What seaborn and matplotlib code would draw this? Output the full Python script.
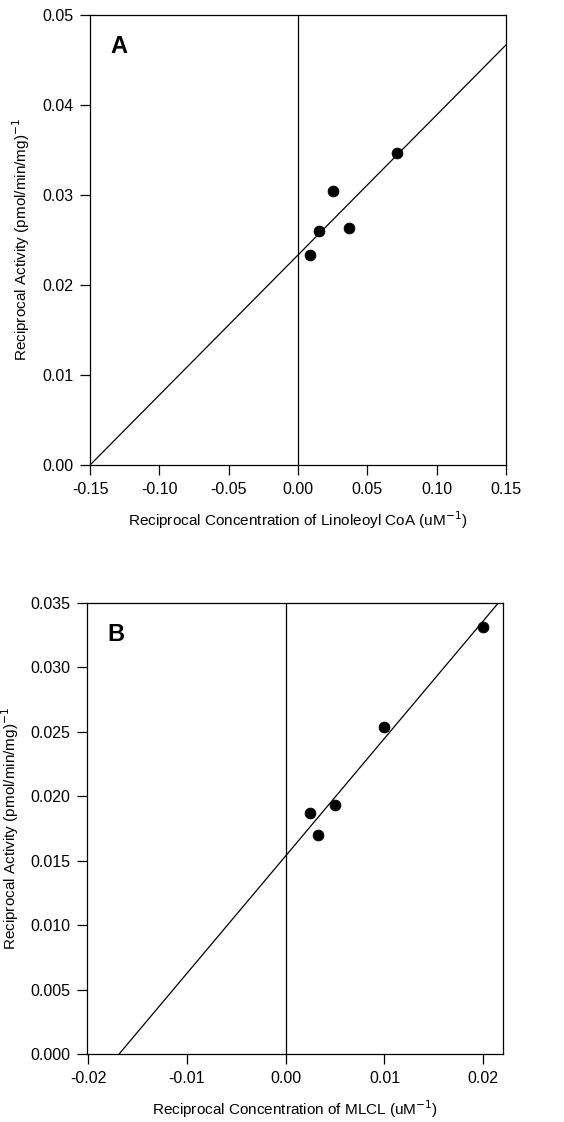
import numpy as np
import pandas as pd
import seaborn as sns
import matplotlib.pyplot as plt

sns.set_style("ticks")
plt.rcParams["font.family"] = ["Liberation Sans", "DejaVu Sans"]
plt.rcParams["text.color"] = "black"
plt.rcParams["axes.labelcolor"] = "black"


# =========================
# Data
# =========================
# Panel A: Linoleoyl CoA
a_x = [0.0084, 0.0151, 0.0249, 0.0369, 0.0713]
a_y = [0.0233, 0.0260, 0.0304, 0.0263, 0.0347]
a_slope = 0.1556
a_intercept = 0.02333

# Panel B: MLCL
b_x = [0.0025, 0.0033, 0.0050, 0.0100, 0.0200]
b_y = [0.0187, 0.0170, 0.0193, 0.0254, 0.0331]
b_slope = 0.912
b_intercept = 0.01537

a_xticks = [-0.15, -0.10, -0.05, 0.00, 0.05, 0.10, 0.15]
a_yticks = [0.00, 0.01, 0.02, 0.03, 0.04, 0.05]
b_xticks = [-0.02, -0.01, 0.00, 0.01, 0.02]
b_yticks = [0.000, 0.005, 0.010, 0.015, 0.020, 0.025, 0.030, 0.035]


# =========================
# Panel drawing
# =========================
def draw_panel(ax, xs, ys, slope, intercept, xlim, ylim, xticks, yticks,
               xfmt, yfmt, xlabel, letter):
    pts = pd.DataFrame({"x": xs, "y": ys})

    # fitted line, from the x-intercept (y=0) to the right / top edge
    x0 = max(-intercept / slope, xlim[0])
    x1 = min((ylim[1] - intercept) / slope, xlim[1])
    fit = pd.DataFrame({"x": [x0, x1]})
    fit["y"] = intercept + slope * fit["x"]

    sns.lineplot(data=fit, x="x", y="y", ax=ax, color="black", lw=0.9)
    sns.scatterplot(data=pts, x="x", y="y", ax=ax, color="black",
                    s=60, edgecolor="black", zorder=3)
    ax.axvline(0, color="black", lw=0.9)

    ax.set_xlim(*xlim)
    ax.set_ylim(*ylim)
    ax.set_xticks(xticks)
    ax.set_yticks(yticks)
    ax.set_xticklabels([xfmt.format(v) for v in xticks])
    ax.set_yticklabels([yfmt.format(v) for v in yticks])
    ax.tick_params(direction="out", length=7, width=0.9, labelsize=11.5,
                   colors="black", pad=5)

    for sp in ax.spines.values():
        sp.set_visible(True)
        sp.set_linewidth(0.9)
        sp.set_color("black")

    ax.set_xlabel(xlabel, fontsize=11, labelpad=9)
    ax.set_ylabel("Reciprocal Activity (pmol/min/mg)$^{-1}$", fontsize=11,
                  labelpad=7)
    ax.text(0.048, 0.955, letter, transform=ax.transAxes, fontsize=17,
            fontweight="bold", va="top", ha="left")


fig = plt.figure(figsize=(5.64, 11.22), dpi=100)

ax_a = fig.add_axes([0.1596, 0.5856, 0.7376, 0.4011])
draw_panel(ax_a, a_x, a_y, a_slope, a_intercept, (-0.15, 0.15), (0, 0.05),
           a_xticks, a_yticks, "{:.2f}", "{:.2f}",
           "Reciprocal Concentration of Linoleoyl CoA (uM$^{-1}$)", "A")

ax_b = fig.add_axes([0.1543, 0.0606, 0.7376, 0.402])
draw_panel(ax_b, b_x, b_y, b_slope, b_intercept, (-0.0201, 0.022), (0, 0.035),
           b_xticks, b_yticks, "{:.2f}", "{:.3f}",
           "Reciprocal Concentration of MLCL (uM$^{-1}$)", "B")

fig.savefig("out.png", dpi=100, facecolor="white")
